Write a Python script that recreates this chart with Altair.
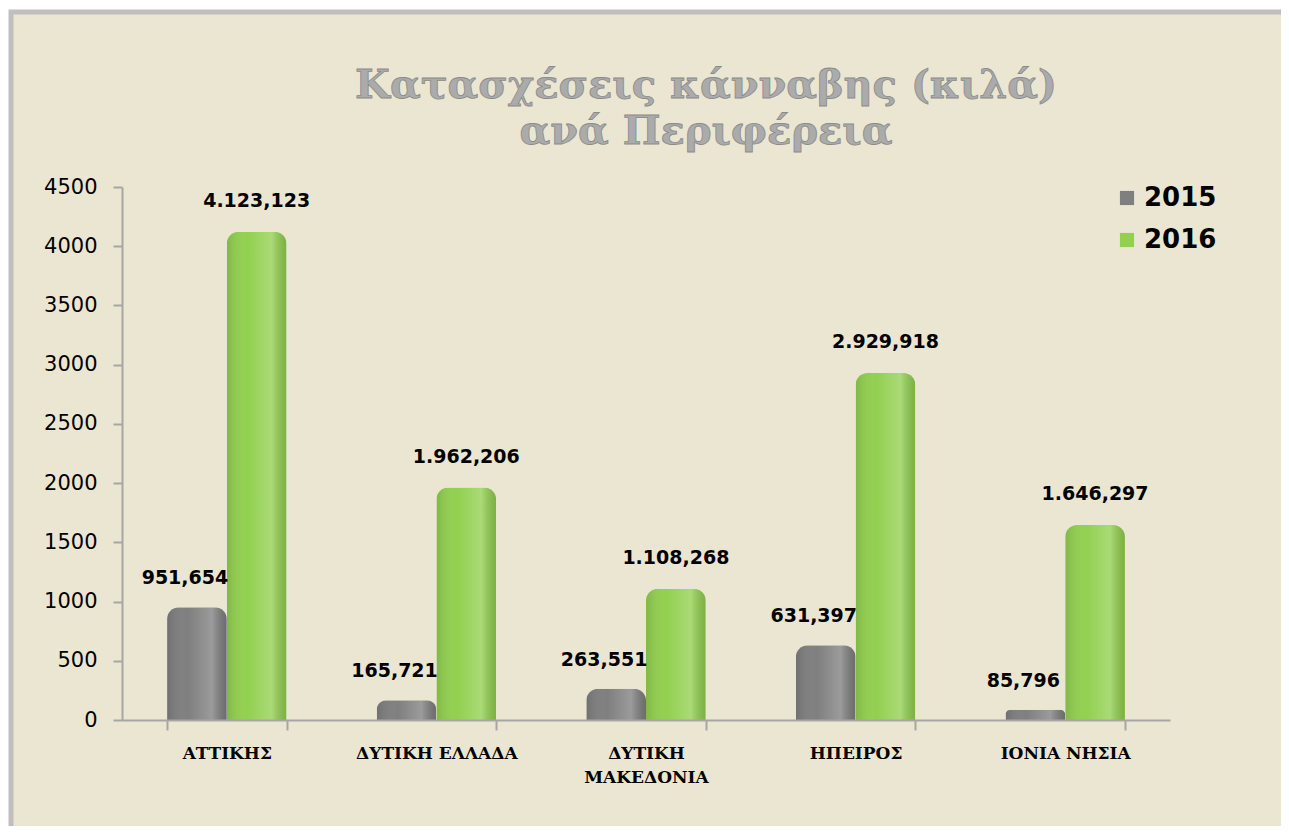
import altair as alt
import pandas as pd

regions = ["ΑΤΤΙΚΗΣ", "ΔΥΤΙΚΗ ΕΛΛΑΔΑ", "ΔΥΤΙΚΗ\nΜΑΚΕΔΟΝΙΑ", "ΗΠΕΙΡΟΣ", "ΙΟΝΙΑ ΝΗΣΙΑ"]
years = ["2015", "2016"]
values_2015 = [951.654, 165.721, 263.551, 631.397, 85.796]
values_2016 = [4123.123, 1962.206, 1108.268, 2929.918, 1646.297]
y_ticks = [0, 500, 1000, 1500, 2000, 2500, 3000, 3500, 4000, 4500]
title_lines = ["Κατασχέσεις κάνναβης (κιλά)", "ανά Περιφέρεια"]
colors = ["#7F7F7F", "#92D050"]


def greek_fmt(v):
    s = f"{v:,.3f}"
    return s.replace(",", "X").replace(".", ",").replace("X", ".")


rows = []
for yr, vals in zip(years, [values_2015, values_2016]):
    for r, v in zip(regions, vals):
        rows.append({"region": r, "year": yr, "value": v, "label": greek_fmt(v)})
df = pd.DataFrame(rows)

W, H = 1048, 533
PL, PT, PR, PB = 114, 179, 111, 106

x_enc = alt.X(
    "region:N",
    sort=regions,
    scale=alt.Scale(paddingInner=0.43, paddingOuter=0.215),
    axis=alt.Axis(
        title=None,
        labelAngle=0,
        labelFont="DejaVu Serif",
        labelFontWeight="bold",
        labelFontSize=17,
        labelColor="#000000",
        labelPadding=15,
        labelLineHeight=24,
        labelExpr="split(datum.label, '\\n')",
        domainColor="#A6A6A6",
        domainWidth=2,
        tickColor="#A6A6A6",
        tickWidth=2,
        tickSize=10,
        tickBand="extent",
        zindex=1,
    ),
)
xoff = alt.XOffset("year:N", sort=years)
y_enc = alt.Y(
    "value:Q",
    scale=alt.Scale(domain=[0, 4500], nice=False),
    axis=alt.Axis(
        title=None,
        values=y_ticks,
        format="d",
        grid=False,
        labelFont="DejaVu Sans",
        labelFontSize=21,
        labelColor="#000000",
        labelPadding=16,
        domainColor="#A6A6A6",
        domainWidth=2,
        tickColor="#A6A6A6",
        tickWidth=2,
        tickSize=9,
        zindex=1,
    ),
)

one = alt.Data(values=[{}])

frame = alt.Chart(one).mark_rect(
    fill="#EBE6D1", stroke="#BFBFBF", strokeWidth=5
).encode(
    x=alt.value(-PL + 3), x2=alt.value(W + PR + 6),
    y=alt.value(-PT + 4), y2=alt.value(H + PB + 6),
)

title_main = alt.Chart(one).mark_text(
    font="DejaVu Serif", fontWeight="bold", fontSize=40, lineHeight=46,
    color="#ABABAB", stroke="#8A8A8A", strokeWidth=0.8,
    align="center", baseline="alphabetic",
).encode(x=alt.value(W / 2 + 60), y=alt.value(-89), text=alt.value(title_lines))

bars = alt.Chart(df).mark_bar(
    cornerRadiusTopLeft=12, cornerRadiusTopRight=12
).encode(
    x=x_enc,
    xOffset=xoff,
    y=y_enc,
    color=alt.Color(
        "year:N",
        scale=alt.Scale(domain=years, range=colors),
        legend=alt.Legend(
            title=None,
            orient="none",
            legendX=992,
            legendY=-2,
            symbolType="square",
            symbolSize=200,
            symbolStrokeWidth=0,
            labelFont="DejaVu Sans",
            labelFontWeight="bold",
            labelFontSize=26,
            labelColor="#000000",
            rowPadding=16,
            labelOffset=4,
        ),
    ),
)

shine = alt.Chart(df).mark_bar(
    cornerRadiusTopLeft=12, cornerRadiusTopRight=12,
    fill={
        "gradient": "linear", "x1": 0, "x2": 1, "y1": 0, "y2": 0,
        "stops": [
            {"offset": 0, "color": "rgba(0,0,0,0.12)"},
            {"offset": 0.35, "color": "rgba(255,255,255,0.0)"},
            {"offset": 0.75, "color": "rgba(255,255,255,0.22)"},
            {"offset": 1, "color": "rgba(0,0,0,0.15)"},
        ],
    },
).encode(x=x_enc, xOffset=xoff, y=y_enc)

lab_2015 = alt.Chart(df).transform_filter("datum.year == '2015'").mark_text(
    font="DejaVu Sans", fontWeight="bold", fontSize=19, color="#000000",
    baseline="bottom", dy=-19, dx=-12,
).encode(x=x_enc, xOffset=xoff, y=y_enc, text="label:N")

lab_2016 = alt.Chart(df).transform_filter("datum.year == '2016'").mark_text(
    font="DejaVu Sans", fontWeight="bold", fontSize=19, color="#000000",
    baseline="bottom", dy=-21,
).encode(x=x_enc, xOffset=xoff, y=y_enc, text="label:N")

chart = alt.layer(
    frame, title_main, bars, shine, lab_2015, lab_2016
).properties(
    width=W,
    height=H,
    autosize=alt.AutoSizeParams(type="none"),
    padding={"left": PL, "top": PT, "right": PR, "bottom": PB},
    background="#FFFFFF",
).configure_view(stroke=None)

chart.save("out.html", embed_options={"renderer": "svg", "actions": False})
